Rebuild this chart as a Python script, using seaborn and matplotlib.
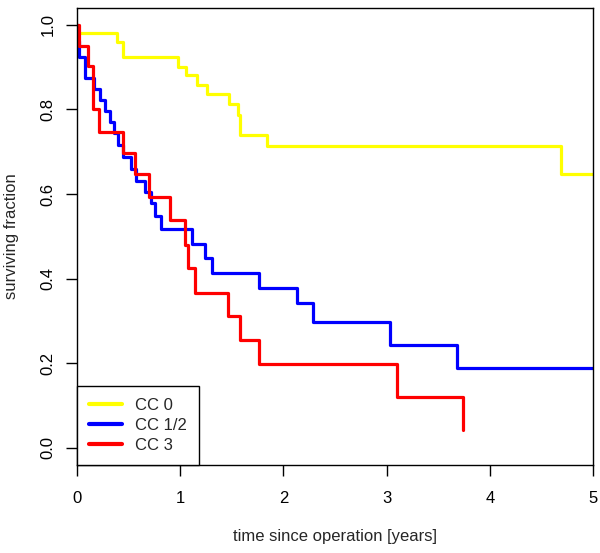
import matplotlib
matplotlib.use("Agg")
import matplotlib.pyplot as plt
import seaborn as sns
import pandas as pd

# Kaplan-Meier style step curves
cc0_time = [0, 0.01, 0.385, 0.45, 0.98, 1.06, 1.16, 1.257, 1.473, 1.563,
            1.58, 1.844, 4.69, 5.0]
cc0_surv = [1.0, 0.982, 0.96, 0.923, 0.90, 0.882, 0.858, 0.836, 0.812,
            0.787, 0.74, 0.714, 0.647, 0.647]

cc12_time = [0, 0.01, 0.02, 0.075, 0.16, 0.22, 0.27, 0.32, 0.36, 0.40,
             0.45, 0.52, 0.57, 0.66, 0.72, 0.76, 0.81, 1.11, 1.24, 1.31,
             1.767, 2.13, 2.284, 3.033, 3.685, 5.0]
cc12_surv = [1.0, 0.963, 0.925, 0.874, 0.848, 0.822, 0.797, 0.770, 0.745,
             0.715, 0.688, 0.66, 0.632, 0.605, 0.578, 0.548, 0.517, 0.483,
             0.448, 0.414, 0.377, 0.343, 0.297, 0.243, 0.188, 0.188]

cc3_time = [0, 0.015, 0.11, 0.158, 0.216, 0.45, 0.562, 0.70, 0.90, 1.046,
            1.079, 1.143, 1.466, 1.58, 1.767, 3.104, 3.737]
cc3_surv = [1.0, 0.951, 0.903, 0.80, 0.747, 0.696, 0.647, 0.594, 0.538,
            0.479, 0.424, 0.367, 0.311, 0.256, 0.199, 0.12, 0.043]

group_names = ["CC 0", "CC 1/2", "CC 3"]
group_colors = ["#FFFF00", "#0000FF", "#FF0000"]

frames = []
for name, t, s in zip(group_names,
                      [cc0_time, cc12_time, cc3_time],
                      [cc0_surv, cc12_surv, cc3_surv]):
    frames.append(pd.DataFrame({"time": t, "surv": s, "group": name}))
df = pd.concat(frames, ignore_index=True)

sns.set_style("white")
plt.rcParams["font.family"] = ["Liberation Sans", "DejaVu Sans"]
plt.rcParams["font.size"] = 12

fig = plt.figure(figsize=(6.0, 5.53), dpi=100)
ax = fig.add_axes([77 / 600, 1 - 464.7 / 553, 516 / 600, 456.7 / 553])

sns.lineplot(data=df, x="time", y="surv", hue="group",
             hue_order=group_names, palette=group_colors,
             estimator=None, sort=False, drawstyle="steps-post",
             linewidth=2.3, ax=ax)

ax.set_xlim(0, 5)
ax.set_ylim(-0.04, 1.04)
ax.set_xticks([0, 1, 2, 3, 4, 5])
ax.set_yticks([0.0, 0.2, 0.4, 0.6, 0.8, 1.0])
ax.set_yticklabels(["0.0", "0.2", "0.4", "0.6", "0.8", "1.0"])
for lab in ax.get_yticklabels():
    lab.set_rotation(90)
    lab.set_va("center")

for sp in ax.spines.values():
    sp.set_visible(True)
    sp.set_color("black")
    sp.set_linewidth(1.0)

ax.tick_params(axis="both", direction="out", length=7.6, width=1.0,
               color="black", labelsize=12, labelcolor="black")
ax.tick_params(axis="x", pad=11, bottom=True)
ax.tick_params(axis="y", pad=8, left=True)

ax.set_xlabel("time since operation [years]", fontsize=12)
ax.set_ylabel("surviving fraction", fontsize=12)
ax.xaxis.set_label_coords(0.5, -0.14)
ax.yaxis.set_label_coords(-0.112, 0.5)

leg = ax.legend(loc="lower left", borderaxespad=0, fancybox=False,
                edgecolor="black", framealpha=1, fontsize=12,
                handlelength=2.0, handletextpad=0.8, borderpad=0.7,
                labelspacing=0.3)
leg.get_frame().set_linewidth(1.0)
for line in leg.get_lines():
    line.set_linewidth(3)

fig.savefig("out.png", dpi=100)
